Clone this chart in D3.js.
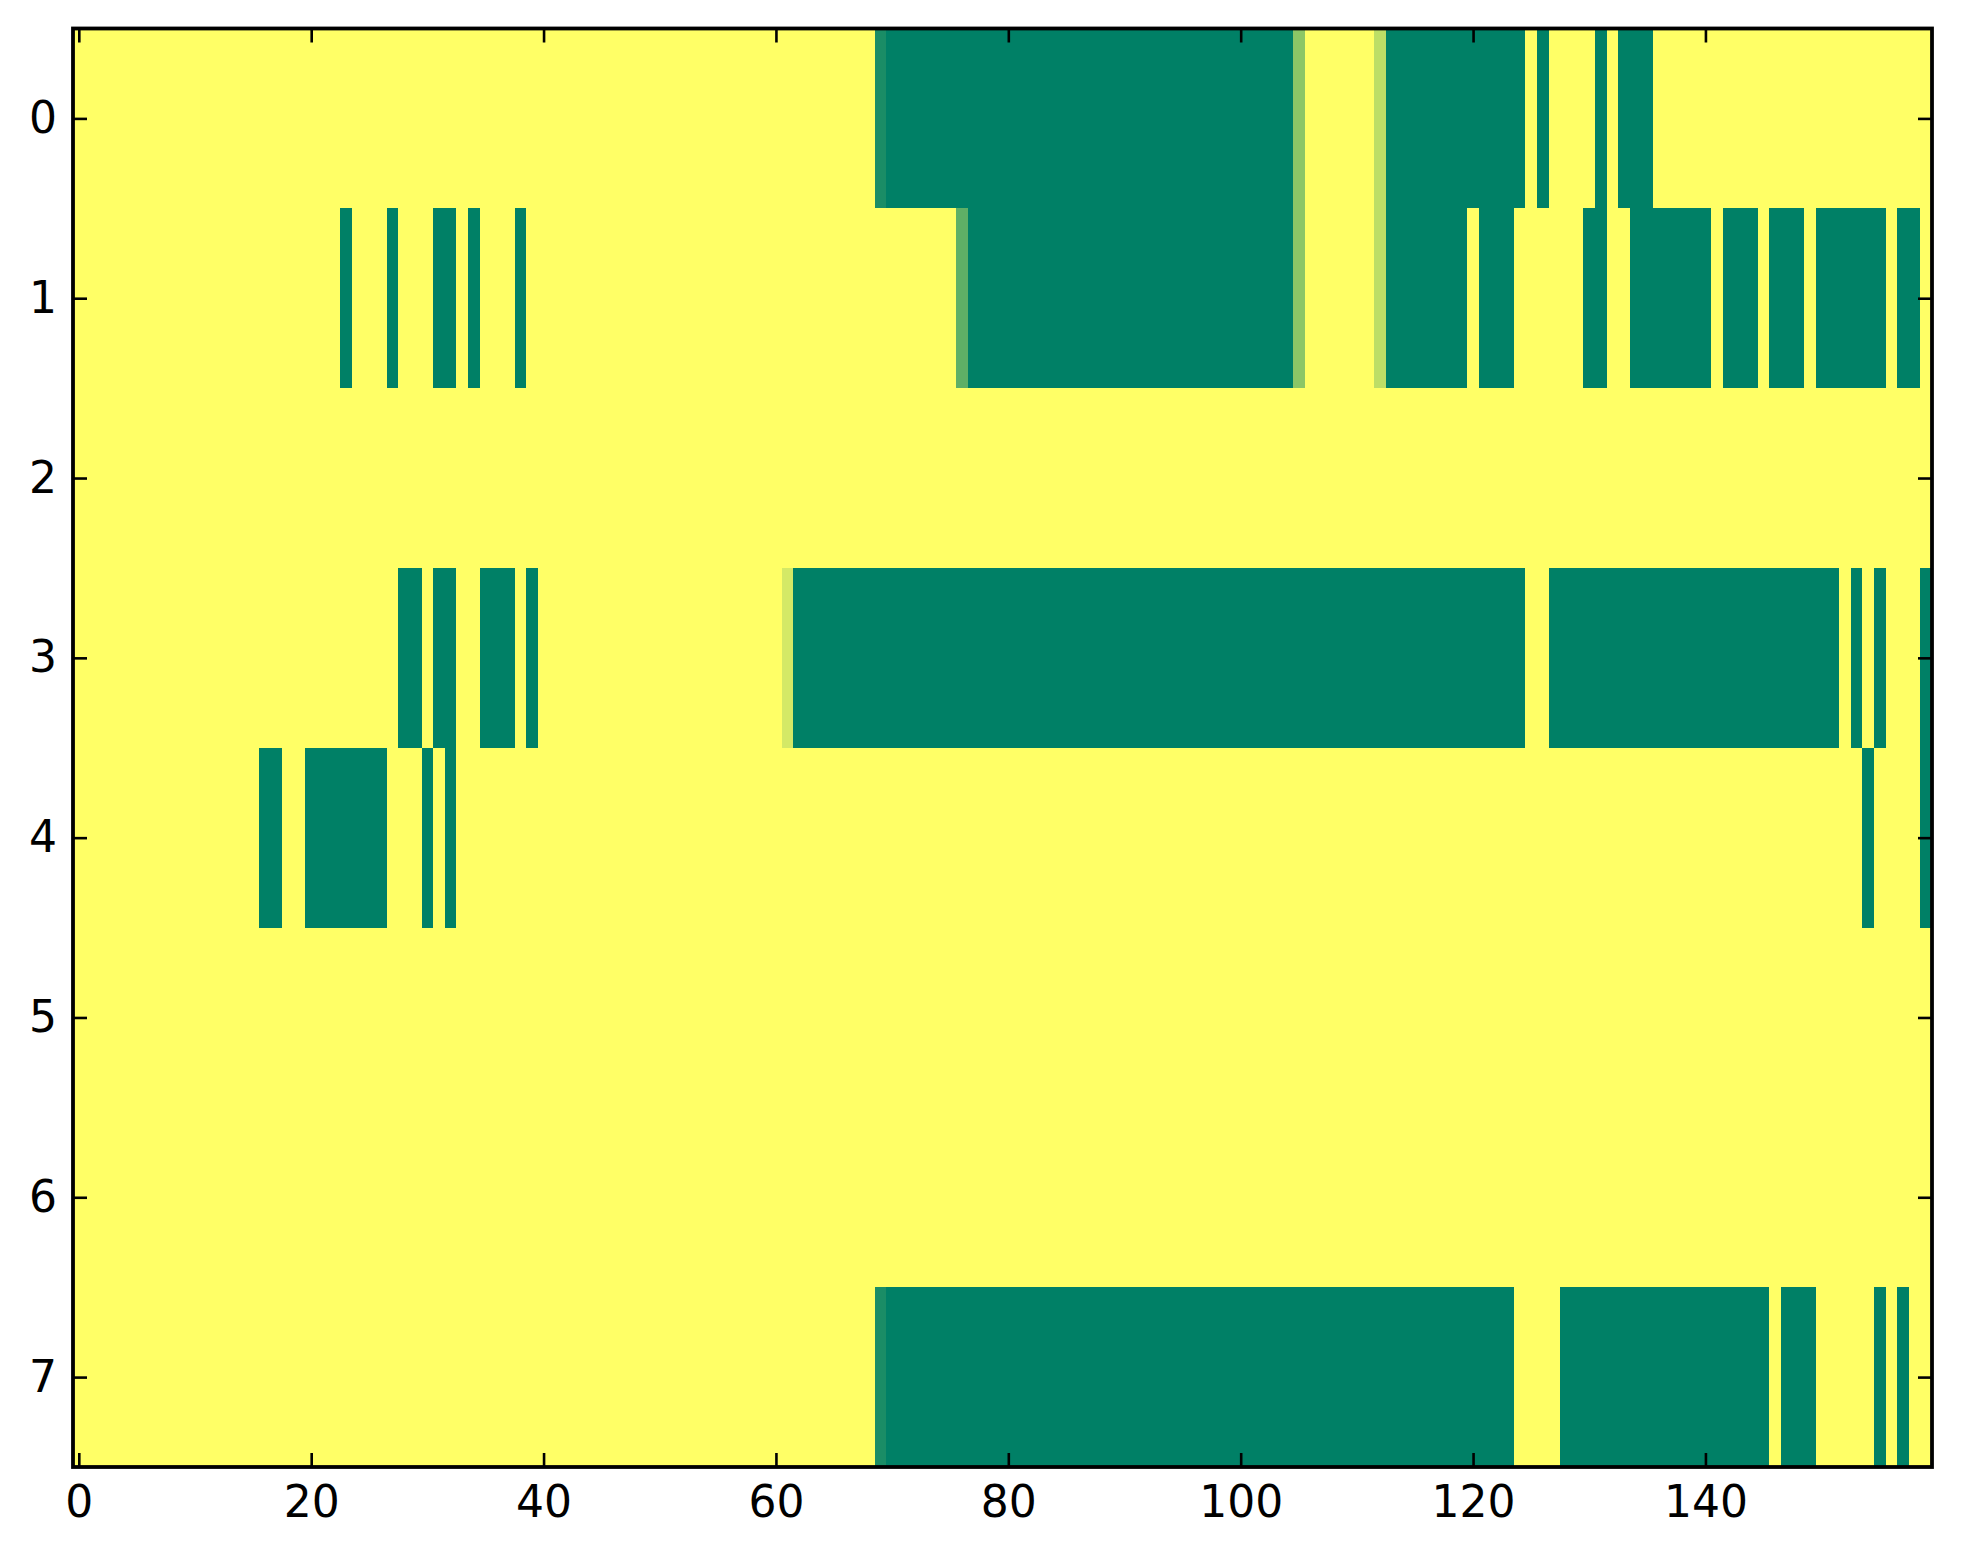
<!DOCTYPE html>
<html>
<head>
<meta charset="utf-8">
<script src="https://cdn.jsdelivr.net/npm/d3@7"></script>
<style>
  body { margin: 0; background: #fff; }
  svg { display: block; }
  .tick text { font-family: "DejaVu Sans", sans-serif; }
</style>
</head>
<body>
<svg width="1963" height="1564"></svg>
<script>
// rows of the image, stored as runs of [value, count]; 1 = yellow, 0 = green
var row0 = [[1,69],[0.1,1],[0,35],[0.55,1],[1,6],[0.74,1],[0,12],[1,1],[0,1],[1,4],[0,1],[1,1],[0,3],[1,24]];
var row1 = [[1,23],[0,1],[1,3],[0,1],[1,3],[0,2],[1,1],[0,1],[1,3],[0,1],[1,37],[0.37,1],[0,28],[0.55,1],[1,6],[0.74,1],
            [0,7],[1,1],[0,3],[1,6],[0,2],[1,2],[0,7],[1,1],[0,3],[1,1],[0,3],[1,1],[0,6],[1,1],[0,2],[1,1]];
var row2 = [[1,160]];
var row3 = [[1,28],[0,2],[1,1],[0,2],[1,2],[0,3],[1,1],[0,1],[1,21],[0.83,1],[0,63],[1,2],[0,25],[1,1],[0,1],[1,1],[0,1],[1,3],[0,1]];
var row4 = [[1,16],[0,2],[1,2],[0,7],[1,3],[0,1],[1,1],[0,1],[1,121],[0,1],[1,4],[0,1]];
var row5 = [[1,160]];
var row6 = [[1,160]];
var row7 = [[1,69],[0.1,1],[0,54],[1,4],[0,18],[1,1],[0,3],[1,5],[0,1],[1,1],[0,1],[1,2]];

var rows = [row0, row1, row2, row3, row4, row5, row6, row7];
var nCols = 160;
var xTicks = [0, 20, 40, 60, 80, 100, 120, 140];
var yTicks = [0, 1, 2, 3, 4, 5, 6, 7];

// expand runs into cells
var cells = [];
rows.forEach(function(runs, r) {
   var c = 0;
   runs.forEach(function(run) {
      for (var k = 0; k < run[1]; k++) {
         cells.push({ row: r, col: c, value: run[0] });
         c++;
      }
   });
});

var svg = d3.select("svg"),
   plotL = 73, plotR = 1932, plotT = 28.5, plotB = 1467;

svg.append("rect").attr("width", 1963).attr("height", 1564).attr("fill", "#fff");

var x = d3.scaleLinear().domain([-0.5, nCols - 0.5]).range([plotL, plotR]);
var y = d3.scaleLinear().domain([-0.5, rows.length - 0.5]).range([plotT, plotB]);

// matplotlib "summer": green -> yellow
var color = d3.scaleLinear().domain([0, 1]).range(["#008066", "#ffff66"]).interpolate(d3.interpolateRgb);

svg.append("g")
   .selectAll("rect")
   .data(cells)
   .enter().append("rect")
   .attr("x", function(d) { return x(d.col - 0.5); })
   .attr("y", function(d) { return y(d.row - 0.5); })
   .attr("width", function(d) { return x(d.col + 0.5) - x(d.col - 0.5) + 0.6; })
   .attr("height", function(d) { return y(d.row + 0.5) - y(d.row - 0.5) + 0.6; })
   .attr("fill", function(d) { return color(d.value); })
   .attr("shape-rendering", "crispEdges");

var tickLen = 14;

function styleAxis(g) {
   g.select(".domain").remove();
   g.selectAll(".tick line").attr("stroke", "#000").attr("stroke-width", 2.6);
   g.selectAll(".tick text").attr("fill", "#000").attr("font-size", 44);
}

svg.append("g")
   .attr("transform", "translate(0," + plotB + ")")
   .call(d3.axisBottom(x).tickValues(xTicks).tickSize(-tickLen).tickPadding(19))
   .call(styleAxis);

svg.append("g")
   .attr("transform", "translate(0," + plotT + ")")
   .call(d3.axisTop(x).tickValues(xTicks).tickSize(-tickLen).tickFormat(""))
   .call(styleAxis);

svg.append("g")
   .attr("transform", "translate(" + plotL + ",0)")
   .call(d3.axisLeft(y).tickValues(yTicks).tickSize(-tickLen).tickPadding(16))
   .call(styleAxis);

svg.append("g")
   .attr("transform", "translate(" + plotR + ",0)")
   .call(d3.axisRight(y).tickValues(yTicks).tickSize(-tickLen).tickFormat(""))
   .call(styleAxis);

// frame
svg.append("rect")
   .attr("x", plotL).attr("y", plotT)
   .attr("width", plotR - plotL).attr("height", plotB - plotT)
   .attr("fill", "none")
   .attr("stroke", "#000")
   .attr("stroke-width", 3.8);
</script>
</body>
</html>
